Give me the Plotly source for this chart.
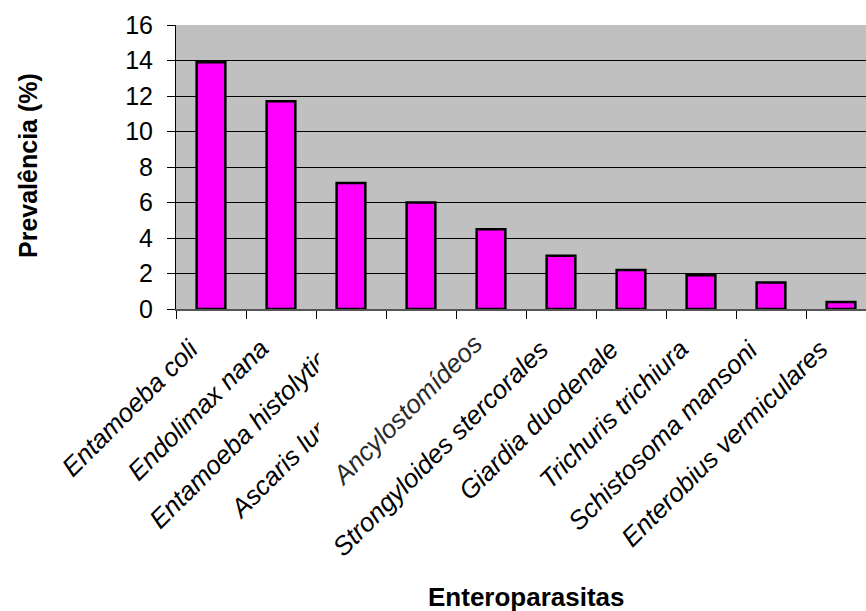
import plotly.graph_objects as go

# Prevalence of intestinal parasites (%)
parasitas = [
    "Entamoeba coli",
    "Endolimax nana",
    "Entamoeba histolytica",
    "Ascaris lumbricoides",
    "Ancylostomídeos",
    "Strongyloides stercorales",
    "Giardia duodenale",
    "Trichuris trichiura",
    "Schistosoma mansoni",
    "Enterobius vermiculares",
]
prevalencia = [13.9, 11.7, 7.1, 6.0, 4.5, 3.0, 2.2, 1.9, 1.5, 0.4]
y_ticks = [0, 2, 4, 6, 8, 10, 12, 14, 16]

FONT = "Liberation Sans, Arial, sans-serif"
W, H = 866, 611
ML, MR, MT, MB = 176, 0, 25, 302
PW = W - ML - MR
PH = H - MT - MB
STEP = 70.0  # pixel width of one category


def px_x(px):
    return (px - ML) / PW


def px_y(py):
    return (H - MB - py) / PH


fig = go.Figure(
    go.Bar(
        x=parasitas,
        y=prevalencia,
        marker=dict(color="#FF00FF", line=dict(color="black", width=2.5)),
        width=0.41,
    )
)

annotations = []


def label(i, shift, top, color="black"):
    annotations.append(
        dict(
            x=parasitas[i], xref="x",
            y=px_y(top), yref="paper",
            text=f"<i>{parasitas[i]}</i>",
            textangle=-45,
            xanchor="right", yanchor="top",
            xshift=shift,
            showarrow=False,
            font=dict(family=FONT, size=26, color=color),
        )
    )


for i in range(4):
    label(i, -4, 331)

# opaque box behind the moved "Ancylostomídeos" label
annotations.append(
    dict(
        x=px_x(318), xref="paper", y=px_y(330), yref="paper",
        xanchor="left", yanchor="top",
        text=" ", width=172, height=175, bgcolor="white",
        showarrow=False, borderpad=0,
    )
)

label(4, 0, 326, color="#2a2a2a")
for i in range(5, 10):
    label(i, -4, 331)

annotations.append(
    dict(
        x=px_x(28), xref="paper", y=px_y(166), yref="paper",
        text="<b>Prevalência (%)</b>", textangle=-90,
        xanchor="center", yanchor="middle", showarrow=False,
        font=dict(family=FONT, size=25, color="black"),
    )
)
annotations.append(
    dict(
        x=px_x(526), xref="paper", y=px_y(597), yref="paper",
        text="<b>Enteroparasitas</b>",
        xanchor="center", yanchor="middle", showarrow=False,
        font=dict(family=FONT, size=26, color="black"),
    )
)

fig.update_layout(
    width=W, height=H,
    margin=dict(l=ML, r=MR, t=MT, b=MB, pad=0),
    paper_bgcolor="white",
    plot_bgcolor="#C0C0C0",
    showlegend=False,
    annotations=annotations,
    xaxis=dict(
        type="category",
        range=[-0.5, -0.5 + PW / STEP],
        showticklabels=False,
        ticks="outside", ticklen=8, tickcolor="black", tickwidth=1,
        tickson="boundaries",
        showline=True, linecolor="#555555", linewidth=1.5,
        showgrid=False, zeroline=False, fixedrange=True,
    ),
    yaxis=dict(
        range=[0, 16],
        tickvals=y_ticks,
        ticks="outside", ticklen=8, tickcolor="black", tickwidth=1,
        ticklabelstandoff=9,
        showline=True, linecolor="black", linewidth=1,
        showgrid=True, gridcolor="black", gridwidth=1,
        zeroline=False,
        tickfont=dict(family=FONT, size=25, color="black"),
    ),
)

fig.write_html("out.html")
